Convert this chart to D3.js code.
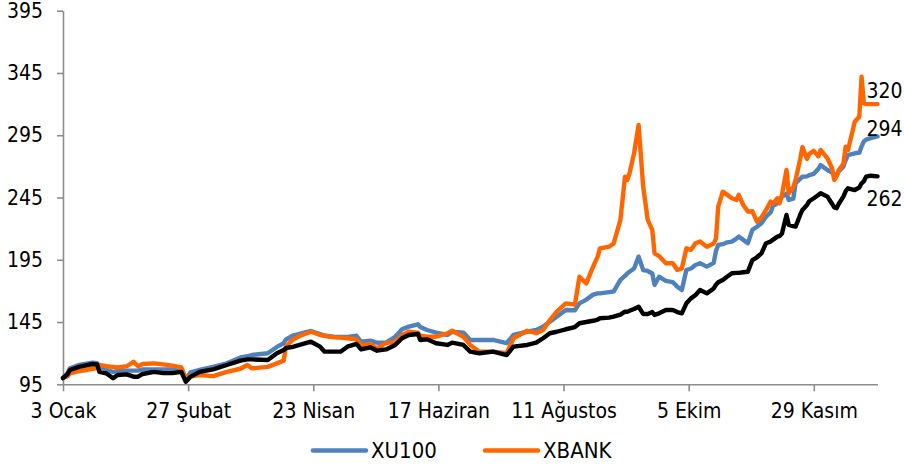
<!DOCTYPE html>
<html><head><meta charset="utf-8">
<script src="https://cdn.jsdelivr.net/npm/d3@7"></script>
<style>
body{margin:0;background:#fff;}
svg text{font-family:"DejaVu Sans Condensed","DejaVu Sans",sans-serif;fill:#000;}
</style></head><body><svg id="c" width="904" height="466"></svg>
<script>
const dates = ["2022-01-03","2022-01-05","2022-01-06","2022-01-10","2022-01-16","2022-01-18","2022-01-19","2022-01-22","2022-01-25","2022-01-27","2022-01-31",
"2022-02-03","2022-02-05","2022-02-07","2022-02-12","2022-02-16","2022-02-20","2022-02-24","2022-02-26","2022-02-28",
"2022-03-04","2022-03-10","2022-03-16","2022-03-22","2022-03-25","2022-03-27",
"2022-04-03","2022-04-07","2022-04-10","2022-04-11","2022-04-14","2022-04-17","2022-04-22","2022-04-26","2022-04-28",
"2022-05-02","2022-05-05","2022-05-08","2022-05-12","2022-05-14","2022-05-18","2022-05-21","2022-05-25","2022-05-29",
"2022-06-01","2022-06-04","2022-06-08","2022-06-09","2022-06-12","2022-06-16","2022-06-21","2022-06-23","2022-06-28",
"2022-07-01","2022-07-05","2022-07-11","2022-07-17","2022-07-20","2022-07-26","2022-07-30",
"2022-08-02","2022-08-05","2022-08-08","2022-08-12","2022-08-16","2022-08-18","2022-08-21","2022-08-24","2022-08-26","2022-08-27","2022-08-31",
"2022-09-02","2022-09-05","2022-09-07","2022-09-08","2022-09-09","2022-09-11","2022-09-13","2022-09-15","2022-09-17","2022-09-19","2022-09-20","2022-09-22","2022-09-25","2022-09-28","2022-09-30",
"2022-10-02","2022-10-04","2022-10-06","2022-10-08","2022-10-10","2022-10-13","2022-10-16","2022-10-17","2022-10-18","2022-10-20","2022-10-22","2022-10-24","2022-10-26","2022-10-27","2022-10-29","2022-10-31",
"2022-11-02","2022-11-04","2022-11-06","2022-11-08","2022-11-10","2022-11-11","2022-11-13","2022-11-14","2022-11-15","2022-11-17","2022-11-18","2022-11-20","2022-11-21","2022-11-23","2022-11-24","2022-11-26","2022-11-27","2022-11-29",
"2022-12-01","2022-12-02","2022-12-05","2022-12-07","2022-12-08","2022-12-09","2022-12-10","2022-12-12","2022-12-13","2022-12-14","2022-12-17","2022-12-19","2022-12-20","2022-12-21","2022-12-22","2022-12-24","2022-12-27"];

const blackSeries = [100,103,106.5,109,111.3,111,105,103.8,99.8,102.5,103,
101.1,101.1,103.3,105,104,104,105,97,101,
105,107,110.5,114,115,115,
114.5,120,122.5,124,125,126.6,129.2,125.2,121.2,
121.2,121.2,125.2,127.4,123,124.7,122,123,126.6,
132,134.6,135.4,130.6,131.1,128,126.6,128.4,126.6,
121.2,119.9,121.2,118.5,125.2,126.6,128.4,
132,136,137.2,139.2,141,144,145,146,147,148,148.5,
149.3,151,153.3,153.3,154,155.5,157.3,151.5,151.5,153,150.7,152,154.7,154.7,153,
152,160,164,166.7,170.7,168,172,175,177,178.8,181.5,184.2,184.5,184.5,185,185.4,
194.8,197,200.2,208.3,209.6,211,213.6,214,216,231,223,222,221.6,231,235,239,242,244.4,
247,248.4,245.7,240,237,236.4,240,245.7,250,252.4,251,253,256.4,258,261.7,262.5,262];

const xu100 = [100,104,107.8,110.5,112.4,112,108,106.5,105,105.5,106,
106,106,107,107,107,107,106.5,99,104.5,
106.5,109,111.8,116.5,117.5,118.5,
119.9,125,128,131,134,135.4,137.8,135.4,134,
133.2,133,133,134,129.2,130,128.4,128.4,133.2,
139.2,141.3,143.2,141,138.6,136.5,134.6,137.2,136.5,
130.6,130.6,130.6,128,134.6,137.2,138.6,
141.3,145.3,149.3,154.7,154.5,160,163,167,168,168,169,
169.4,178.8,182,184,185.4,188,197.5,186.8,186,184,174.8,181.4,178,177,173.4,
170.7,186.8,188,190.8,192.2,189.5,192.5,202,206.9,207.5,209,209.6,212,213.6,211,208.3,
219,221.5,224.3,229.6,233,238,240.4,243,245.7,248,243,244,256.4,260,261.7,262,263,264,
268,271,267.1,265,263.5,262.5,266,269.8,275,279.1,280.5,281,286,290,291.5,292.7,294];

const xbank = [100,101.5,103.8,105.5,107.5,108,110.5,109.5,109,108.5,109.5,
113,109.5,111.3,111.8,111,110,108.6,99.8,101.5,
102.5,101.6,105,107.5,110.5,107.8,
109,111.8,114,125.2,131,133.8,137.2,134.6,134,
132.7,132.5,132,131.1,126.6,127.4,123.9,128,129.2,
134.6,137.2,136.5,134,133.2,133.2,136,138,133.2,
126.6,121.2,121.2,120,132,138,136,
138.6,146.6,153.3,160,159,181.4,176,189.5,197.5,204.2,205.5,
208,227,261.7,259,264.5,280.5,303.3,253.7,227,219,200.2,198,192.2,192.2,186.8,
188,204.2,203,208.3,209.6,205.5,208,212,237.6,249.7,247.1,244.4,243,247.1,239,233.7,
234,225.6,229,235,241.7,240,244.4,240.4,247.1,267.1,248.4,253.5,259.1,275.8,285.5,276,280,282.5,
278,283.2,276.5,268.5,259.1,262,267.1,272,285.8,283,305.9,309.9,342,320.6,320,320,320];

const yTicks = [95,145,195,245,295,345,395];
const xTickDates = ["2022-01-03","2022-02-27","2022-04-23","2022-06-17","2022-08-11","2022-10-05","2022-11-29"];
const xTickLabels = ["3 Ocak","27 Şubat","23 Nisan","17 Haziran","11 Ağustos","5 Ekim","29 Kasım"];
const legendNames = ["XU100","XBANK"];
const colors = {xu100:"#4F81BD", xbank:"#FF6600", black:"#000000"};

const parse = d3.timeParse("%Y-%m-%d");
const dts = dates.map(parse);
const svg = d3.select("#c");
const axisColor = "#8c8c8c";

const x = d3.scaleTime().domain([parse("2022-01-03"), parse("2022-12-27")]).range([63, 877.5]);
const y = d3.scaleLinear().domain([95, 395]).range([384.3, 10.7]);

// axes
const yAxis = svg.append("g").attr("transform","translate(63,0)")
  .call(d3.axisLeft(y).tickValues(yTicks).tickSize(6).tickSizeOuter(0).tickPadding(14).tickFormat(d3.format("d")));
const xAxis = svg.append("g").attr("transform","translate(0,384.3)")
  .call(d3.axisBottom(x).tickValues(xTickDates.map(parse)).tickSize(7).tickSizeOuter(0).tickPadding(12)
    .tickFormat((d,i)=>xTickLabels[i]));
[yAxis,xAxis].forEach(g=>{
  g.select(".domain").attr("stroke",axisColor).attr("stroke-width",1.6);
  g.selectAll(".tick line").attr("stroke",axisColor).attr("stroke-width",1.6);
  g.selectAll(".tick text").style("font-size","21px").attr("fill","#000");
});

// lines
const line = d3.line().x((d,i)=>x(dts[i])).y(d=>y(d)).curve(d3.curveLinear);
const seriesList = [
  {vals:xu100, color:colors.xu100, dy:-8},
  {vals:xbank, color:colors.xbank, dy:-13},
  {vals:blackSeries, color:colors.black, dy:22}
];
seriesList.forEach(s=>{
  svg.append("path").datum(s.vals).attr("d",line)
    .attr("fill","none").attr("stroke",s.color).attr("stroke-width",4.4)
    .attr("stroke-linejoin","round").attr("stroke-linecap","round");
});
// end labels
seriesList.forEach(s=>{
  const n = s.vals.length-1;
  svg.append("text").attr("x", x(dts[n]) - 11).attr("y", y(s.vals[n]) + s.dy)
    .attr("dy","0.35em").style("font-size","21px").text(Math.round(s.vals[n]));
});

// legend
const legend = svg.append("g");
const legItems = [{name:legendNames[0], color:colors.xu100, x:313},{name:legendNames[1], color:colors.xbank, x:485}];
legItems.forEach(it=>{
  legend.append("line").attr("x1",it.x).attr("x2",it.x+53).attr("y1",450.5).attr("y2",450.5)
    .attr("stroke",it.color).attr("stroke-width",4.5).attr("stroke-linecap","round");
  legend.append("text").attr("x",it.x+58).attr("y",458).style("font-size","22px").text(it.name);
});
</script></body></html>
